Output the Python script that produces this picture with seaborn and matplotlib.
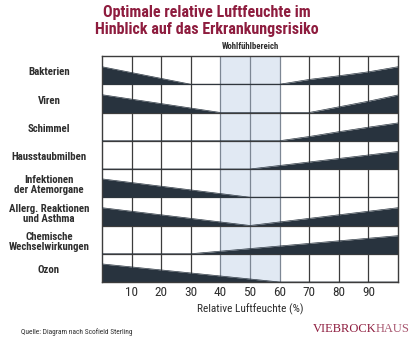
import numpy as np
import pandas as pd
import matplotlib
matplotlib.use("Agg")
import matplotlib.pyplot as plt
import matplotlib.transforms as mtransforms
from matplotlib import font_manager as fm
import seaborn as sns

# ---- data ----
categories = ["Bakterien", "Viren", "Schimmel", "Hausstaubmilben",
              "Infektionen\nder Atemorgane", "Allerg. Reaktionen\nund Asthma",
              "Chemische\nWechselwirkungen", "Ozon"]
# risk profile per category: humidity (%) and relative band height (0..1 of row)
bakterien_x = [0, 30, 60, 70, 80, 90, 100]
bakterien_h = [0.62, 0, 0, 0.17, 0.30, 0.44, 0.62]
viren_x = [0, 40, 70, 80, 90, 100]
viren_h = [0.63, 0, 0, 0.20, 0.40, 0.62]
schimmel_x = [0, 60, 70, 80, 90, 100]
schimmel_h = [0, 0, 0.15, 0.32, 0.48, 0.63]
milben_x = [0, 50, 100]
milben_h = [0, 0, 0.62]
infekt_x = [0, 50, 100]
infekt_h = [0.65, 0, 0]
allerg_x = [0, 50, 100]
allerg_h = [0.63, 0, 0.63]
chemie_x = [0, 30, 100]
chemie_h = [0, 0, 0.64]
ozon_x = [0, 60, 100]
ozon_h = [0.64, 0, 0]
profiles_x = [bakterien_x, viren_x, schimmel_x, milben_x, infekt_x, allerg_x, chemie_x, ozon_x]
profiles_h = [bakterien_h, viren_h, schimmel_h, milben_h, infekt_h, allerg_h, chemie_h, ozon_h]
xticks = [10, 20, 30, 40, 50, 60, 70, 80, 90]
comfort_zone = (40, 60)

title = "Optimale relative Luftfeuchte im\nHinblick auf das Erkrankungsrisiko"
xlabel = "Relative Luftfeuchte (%)"
zone_label = "Wohlfühlbereich"
source = "Quelle: Diagram nach Scofield Sterling"

# ---- styling ----
sns.set_theme(style="white")


def pick(cands):
    for c in cands:
        try:
            fm.findfont(fm.FontProperties(family=c), fallback_to_default=False)
            return c
        except Exception:
            continue
    return "DejaVu Sans"


cond = pick(["Liberation Sans Narrow", "DejaVu Sans Condensed", "Roboto Condensed",
             "Open Sans Condensed", "Noto Sans Condensed", "Arial Narrow"])
narrow_available = cond != "DejaVu Sans"
plt.rcParams["font.family"] = [cond, "DejaVu Sans"]
k = 1.0 if narrow_available else 0.82  # shrink if no condensed face exists

WEDGE = "#28333e"
GRID = "#3c3c3c"
BAND = "#e1e9f3"
TEXT = "#2e2e2e"
RED = "#8e1c3e"

fig = plt.figure(figsize=(4.14, 3.45), dpi=100)
W, H = 414, 345
ax = fig.add_axes([102 / W, 1 - 282 / H, (398 - 102) / W, (282 - 56) / H])

rows = []
for i, (xs, hs) in enumerate(zip(profiles_x, profiles_h)):
    for x, h in zip(xs, hs):
        rows.append({"cat": i, "x": x, "top": i + 1 - h})
df = pd.DataFrame(rows)

ax.axvspan(*comfort_zone, color=BAND, zorder=0, lw=0)
for i, g in df.groupby("cat"):
    ax.fill_between(g["x"], g["top"], i + 1, color=WEDGE, lw=0, zorder=2)
sns.lineplot(data=df, x="x", y="top", units="cat", estimator=None,
             color=WEDGE, lw=0.5, ax=ax, zorder=3, legend=False)

# grid
for xv in xticks:
    c = "#7d8794" if comfort_zone[0] <= xv <= comfort_zone[1] else GRID
    ax.axvline(xv, color=c, lw=0.9, zorder=1)
for yv in range(1, len(categories)):
    ax.axhline(yv, color=GRID, lw=0.9, zorder=1)

ax.set_xlim(0, 100)
ax.set_ylim(len(categories), 0)
ax.set_xticks(xticks)
ax.set_xticklabels([str(t) for t in xticks], fontsize=9.5 * k, color=TEXT)
ax.tick_params(axis="x", length=0, pad=3)
ax.set_yticks([])
ax.set_xlabel(xlabel, fontsize=8.2 * k, color=TEXT, labelpad=3)
ax.set_ylabel("")
for s in ax.spines.values():
    s.set_visible(True)
    s.set_color(GRID)
    s.set_linewidth(1.0)

trans = mtransforms.blended_transform_factory(fig.transFigure, ax.transData)
for i, lab in enumerate(categories):
    ax.text(49 / W, i + 0.58, lab, transform=trans, ha="center", va="center",
            fontsize=7.8 * k, fontweight="bold", color=TEXT, linespacing=1.0)

ax.text(50, -0.16, zone_label, ha="center", va="bottom", fontsize=6.3 * k,
        fontweight="bold", color=TEXT)

fig.text(207 / W, 1 - 21 / H, title, ha="center", va="center", fontsize=11.5 * k,
         fontweight="bold", color=RED, linespacing=1.15)

fig.text(21 / W, 1 - 332 / H, source, ha="left", va="center", fontsize=5.3 * k,
         color=TEXT)

r = fig.canvas.get_renderer()
serif = ["Liberation Serif", "DejaVu Serif"]
t2 = fig.text(410 / W, 1 - 329 / H, "HAUS", ha="right", va="center",
              fontsize=9, family=serif, color="#a8566f")
bb = t2.get_window_extent(renderer=r)
fig.text(bb.x0 / W, 1 - 329 / H, "VIEBROCK", ha="right", va="center",
         fontsize=9, family=serif, color=RED)

fig.savefig("out.png", dpi=100, facecolor="white")
